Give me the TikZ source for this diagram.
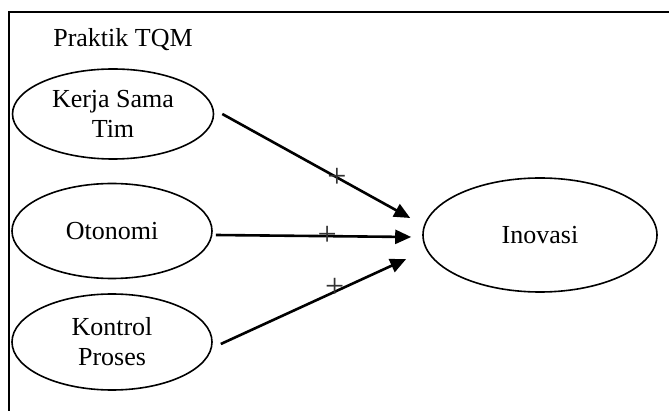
\documentclass[tikz,border=0pt]{standalone}
\usepackage{fontspec}
\setmainfont{Liberation Serif}
\usetikzlibrary{shapes.geometric}
\usetikzlibrary{arrows.meta}

\begin{document}
\begin{tikzpicture}[
        x=.5pt, y=-.5pt,
        every node/.append style={font=\fontsize{13}{15}\selectfont, align=center},
        var/.style={draw=black, line width=.8pt, ellipse, inner sep=0pt},
        plus/.style={font=\fontsize{17}{17}\selectfont, inner sep=0pt, text=black!80},
        arr/.style={-{Triangle[length=8pt,width=7pt]}, line width=1.3pt}
    ]
        \useasboundingbox (0,0) rectangle (669,411);
        \draw [line width=.9pt] (9,411) -- (9,12) -- (669,12);

        \node (0) [anchor=base] at (123,47) {Praktik TQM};
        \node (1) [var, minimum width=100.5pt, minimum height=45pt] at (113,114) {Kerja Sama\\Tim};
        \node (2) [var, minimum width=100pt, minimum height=47.5pt] at (112,231) {Otonomi};
        \node (3) [var, minimum width=100pt, minimum height=48pt] at (112,342) {Kontrol\\Proses};
        \node (4) [var, minimum width=117pt, minimum height=57pt] at (540,235) {Inovasi};

        \draw [arr] ([xshift=4pt]1.east) -- ([xshift=-6pt,yshift=8.5pt]4.west)
            node [plus, pos=.61] {+};
        \draw [arr] ([xshift=1.5pt,yshift=-2pt]2.east) -- ([xshift=-5.5pt,yshift=-1pt]4.west)
            node [plus, pos=.57] {+};
        \draw [arr] ([xshift=4pt,yshift=-1pt]3.east) -- ([xshift=-8pt,yshift=-12pt]4.west)
            node [plus, pos=.615, yshift=2pt] {+};
    \end{tikzpicture}
\end{document}
